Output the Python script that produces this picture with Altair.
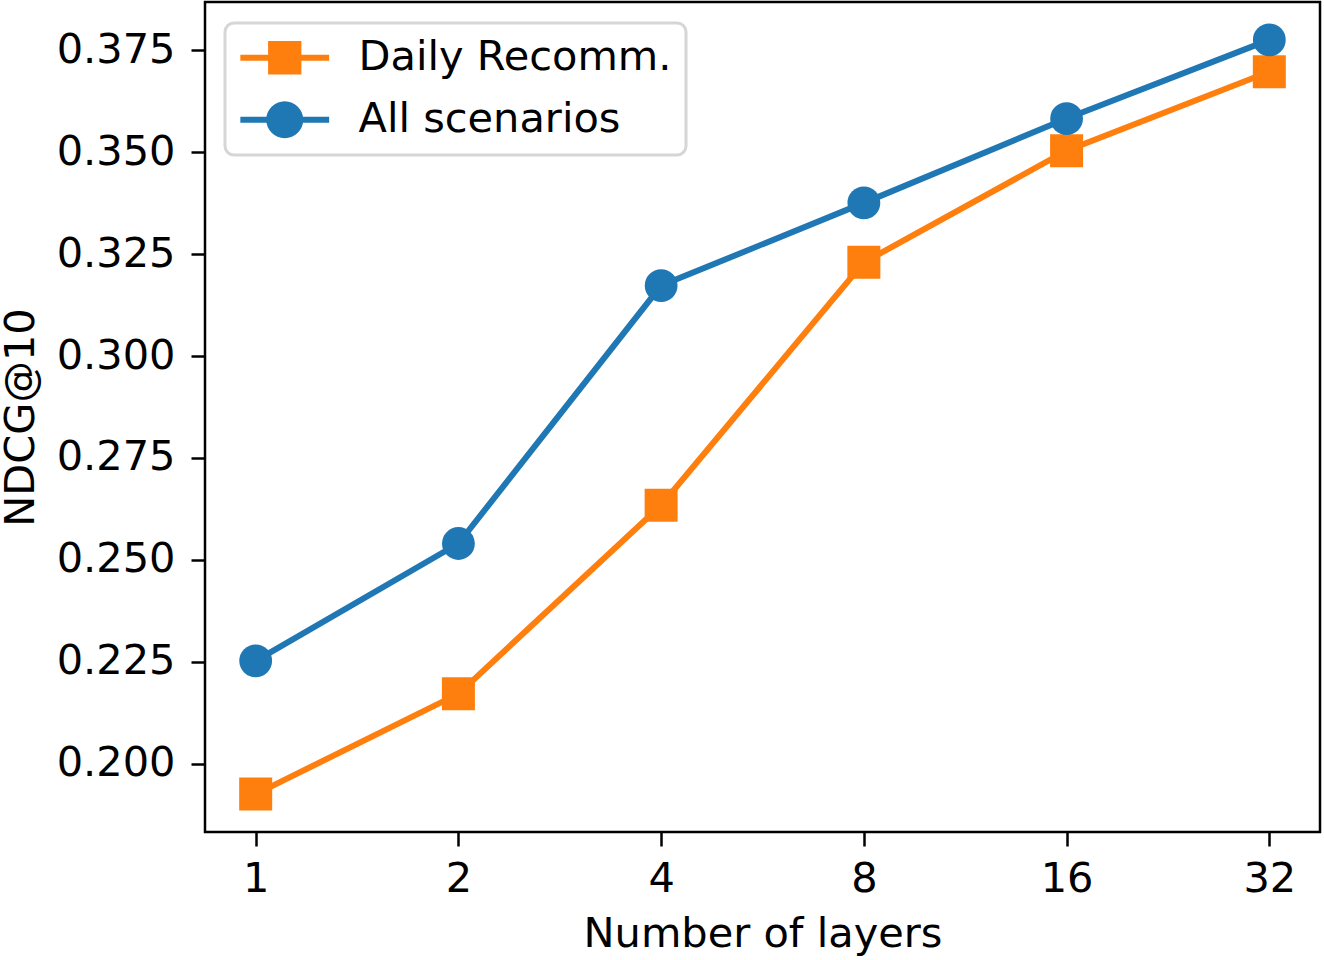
import altair as alt
import pandas as pd

# NDCG@10 versus model depth for the two evaluation settings
layers = [1, 2, 4, 8, 16, 32]
daily_recomm = [0.1925, 0.2171, 0.2634, 0.3230, 0.3504, 0.3698]
all_scenarios = [0.2252, 0.2540, 0.3173, 0.3376, 0.3583, 0.3776]

series_names = ["Daily Recomm.", "All scenarios"]
series_colors = ["#ff7f0e", "#1f77b4"]

rows = []
for name, vals in zip(series_names, [daily_recomm, all_scenarios]):
    for n, v in zip(layers, vals):
        rows.append({"layers": n, "series": name, "ndcg": v})
df = pd.DataFrame(rows)

FONT = "DejaVu Sans"
FS = 41.5

x_enc = alt.X(
    "layers:Q",
    scale=alt.Scale(type="log", base=2, domain=[2 ** -0.25, 2 ** 5.25], nice=False),
    axis=alt.Axis(values=layers, format="d", title="Number of layers",
                  grid=False, domain=False, tickColor="black", tickWidth=2.5,
                  tickSize=14, labelPadding=12, titlePadding=14),
)
y_enc = alt.Y(
    "ndcg:Q",
    scale=alt.Scale(domain=[0.1832, 0.3869], nice=False, zero=False),
    axis=alt.Axis(values=[0.200, 0.225, 0.250, 0.275, 0.300, 0.325, 0.350, 0.375],
                  format=".3f", title="NDCG@10", grid=False, domain=False,
                  tickColor="black", tickWidth=2.5, tickSize=14,
                  labelPadding=16, titlePadding=14),
)

base = alt.Chart(df).encode(x=x_enc, y=y_enc)


def series_layers(name, color, shape, size):
    sub = base.transform_filter(alt.datum.series == name)
    line = sub.mark_line(color=color, strokeWidth=6)
    pts = sub.mark_point(shape=shape, filled=True, color=color, size=size, opacity=1)
    return [line, pts]


# legend symbols: a short line with the series marker on it
line_part = "M-2.4,-0.16H2.4V0.16H-2.4Z"
square_path = line_part + " M-0.9,-0.9H0.9V0.9H-0.9Z"
circle_path = line_part + " M-1,0A1,1,0,1,1,1,0A1,1,0,1,1,-1,0Z"

# legend-only layer: no rows survive the filter, entries come from the fixed domain
legend_layer = base.transform_filter("false").mark_point(
    filled=True, opacity=1, size=1369
).encode(
    color=alt.Color("series:N",
                    scale=alt.Scale(domain=series_names, range=series_colors),
                    legend=alt.Legend(
                        title=None, orient="none", legendX=20, legendY=21,
                        labelFont=FONT, labelFontSize=FS, labelColor="black",
                        symbolSize=1369, symbolStrokeWidth=0, symbolOpacity=1,
                        symbolOffset=25, labelOffset=53, rowPadding=19,
                        padding=14, strokeColor="#d6d6d6", fillColor="white")),
    shape=alt.Shape("series:N",
                    scale=alt.Scale(domain=series_names,
                                    range=[square_path, circle_path])),
)

chart = alt.layer(
    *series_layers("Daily Recomm.", series_colors[0], "square", 1089),
    *series_layers("All scenarios", series_colors[1], "circle", 1075),
    legend_layer,
).properties(
    width=1115, height=830,
    autosize=alt.AutoSizeParams(type="none"),
    padding={"left": 205, "top": 2, "right": 4, "bottom": 128},
).configure_view(
    stroke="black", strokeWidth=2.5,
).configure_axis(
    labelFont=FONT, labelFontSize=FS, labelColor="black",
    titleFont=FONT, titleFontSize=FS, titleColor="black", titleFontWeight="normal",
).configure_legend(
    labelLimit=0, strokeWidth=3, cornerRadius=9,
)

chart.save("out.html", embed_options={"renderer": "svg", "actions": False})
